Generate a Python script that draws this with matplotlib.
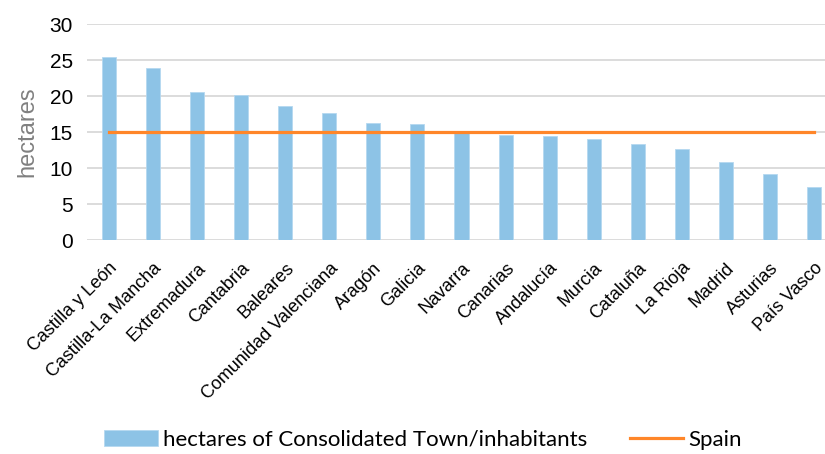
import matplotlib.pyplot as plt

regions = ["Castilla y León", "Castilla-La Mancha", "Extremadura", "Cantabria",
           "Baleares", "Comunidad Valenciana", "Aragón", "Galicia", "Navarra",
           "Canarias", "Andalucía", "Murcia", "Cataluña", "La Rioja", "Madrid",
           "Asturias", "País Vasco"]
hectares = [25.4, 23.9, 20.6, 20.1, 18.6, 17.6, 16.2, 16.1, 14.9, 14.6, 14.4,
            14.0, 13.3, 12.6, 10.8, 9.2, 7.4]
spain = [15.0] * len(regions)
yticks = [0, 5, 10, 15, 20, 25, 30]

plt.rcParams['font.family'] = ['Liberation Sans', 'DejaVu Sans']

fig = plt.figure(figsize=(8.25, 4.54), dpi=100)
ax = fig.add_axes([87/825, 214/454, 749/825, 216/454])

x = list(range(len(regions)))
bars = ax.bar(x, hectares, width=0.32, color='#8DC3E6', edgecolor='#B5D8F0',
              linewidth=0.6, zorder=2, label='hectares of Consolidated Town/inhabitants')
line, = ax.plot(x, spain, color='#FF8629', linewidth=2.3, zorder=3, label='Spain')

ax.set_xlim(-0.5, len(regions) - 0.5)
ax.set_ylim(0, 30)
ax.set_yticks(yticks)
ax.yaxis.grid(True, color='#D9D9D9', linewidth=1.3, zorder=0)
ax.set_axisbelow(True)
for s in ax.spines.values():
    s.set_visible(False)
ax.tick_params(axis='both', length=0)
ax.tick_params(axis='y', labelsize=15, pad=10)
ax.set_xticks(x)
ax.set_xticklabels(regions, rotation=45, ha='right', rotation_mode='anchor', fontsize=13)
ax.tick_params(axis='x', pad=14)
ax.set_ylabel('hectares', fontsize=17, color='#808080', labelpad=8)

leg = fig.legend(handles=[bars, line], loc='center', bbox_to_anchor=(0.513, 14/454),
                 ncol=2, frameon=False, handlelength=2.4, handleheight=0.7,
                 handletextpad=0.25, columnspacing=1.9,
                 prop={'family': ['Lato', 'DejaVu Sans'], 'size': 16})

fig.savefig('out.png', dpi=100)
